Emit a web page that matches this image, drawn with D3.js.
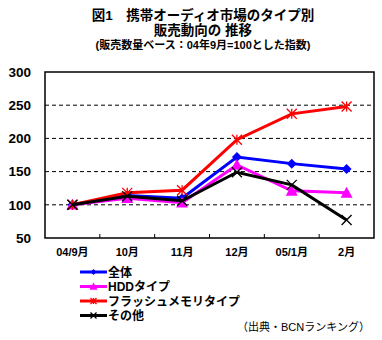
<!DOCTYPE html>
<html><head><meta charset="utf-8">
<script src="https://cdn.jsdelivr.net/npm/d3@7/dist/d3.min.js"></script>
<style>
body{margin:0;background:#fff;}
text{font-family:"Liberation Sans","Noto Sans CJK JP",sans-serif;}
</style></head>
<body><svg id="c" width="382" height="340"></svg>
<script>
const categories = ["04/9月","10月","11月","12月","05/1月","2月"];
const seriesNames = ["全体","HDDタイプ","フラッシュメモリタイプ","その他"];
const zentai = [100,114,110,172,162,154];
const hdd = [100,110,103,160,121,118];
const flash = [100,118,122,198,237,248];
const sonota = [100,113,106,149,130,77];
const yTicks = [50,100,150,200,250,300];
const colors = ["#0000ff","#ff00ff","#ff0000","#000000"];
const markers = ["diamond","triangle","asterisk","cross"];
const series = [zentai,hdd,flash,sonota];

const svg = d3.select("#c");
const L=45,R=374,T=72,B=238;
const x = d3.scaleBand().domain(categories).range([L,R]);
const y = d3.scaleLinear().domain([50,300]).range([B,T]);

// titles
const t = svg.append("g").attr("font-weight","bold").attr("text-anchor","middle").attr("fill","#000");
t.append("text").attr("x",203).attr("y",20).attr("font-size",13.5).text("図1　携帯オーディオ市場のタイプ別");
t.append("text").attr("x",203).attr("y",35).attr("font-size",13.5).text("販売動向の 推移");
t.append("text").attr("x",203).attr("y",49).attr("font-size",11).text("(販売数量ベース：04年9月=100とした指数)");

// gridlines
svg.append("g").selectAll("line").data(yTicks.filter(v=>v>50&&v<300)).join("line")
  .attr("x1",L).attr("x2",R).attr("y1",d=>y(d)).attr("y2",d=>y(d))
  .attr("stroke","#000").attr("stroke-width",1).attr("stroke-dasharray","4,3");
// frame
svg.append("rect").attr("x",L).attr("y",T).attr("width",R-L).attr("height",B-T)
  .attr("fill","none").attr("stroke","#000").attr("stroke-width",1.5);

// y axis labels
const ya = svg.append("g").attr("transform",`translate(${L},0)`)
  .call(d3.axisLeft(y).tickValues(yTicks).tickSize(0).tickPadding(14));
ya.select(".domain").remove();
ya.selectAll("text").attr("font-size",13.5).attr("font-weight","bold").attr("fill","#000")
  .attr("font-family","Liberation Sans,Arial,sans-serif");

// x axis
const xa = svg.append("g").attr("transform",`translate(0,${B})`)
  .call(d3.axisBottom(x).tickSize(0).tickPadding(10));
xa.select(".domain").remove();
xa.selectAll("text").attr("font-size",11).attr("font-weight","bold").attr("fill","#000");
// inner ticks at band boundaries
svg.append("g").selectAll("line").data(categories.slice(1)).join("line")
  .attr("x1",d=>x(d)).attr("x2",d=>x(d)).attr("y1",B).attr("y2",B-4)
  .attr("stroke","#000").attr("stroke-width",1);

function drawMarker(g,type,cx,cy,color,s){
  if(type==="diamond"){
    g.append("path").attr("d",`M${cx},${cy-s}L${cx+s},${cy}L${cx},${cy+s}L${cx-s},${cy}Z`).attr("fill",color);
  } else if(type==="triangle"){
    g.append("path").attr("d",`M${cx},${cy-s}L${cx+s},${cy+s*0.8}L${cx-s},${cy+s*0.8}Z`).attr("fill",color);
  } else if(type==="asterisk"){
    const p=`M${cx-s},${cy-s}L${cx+s},${cy+s}M${cx-s},${cy+s}L${cx+s},${cy-s}M${cx},${cy-s}L${cx},${cy+s}`;
    g.append("path").attr("d",p).attr("stroke",color).attr("stroke-width",1.3).attr("fill","none");
  } else {
    const p=`M${cx-s},${cy-s}L${cx+s},${cy+s}M${cx-s},${cy+s}L${cx+s},${cy-s}`;
    g.append("path").attr("d",p).attr("stroke",color).attr("stroke-width",1.3).attr("fill","none");
  }
}

const line = d3.line().x((d,i)=>x(categories[i])+x.bandwidth()/2).y(d=>y(d));
series.forEach((s,k)=>{
  const g = svg.append("g");
  g.append("path").datum(s).attr("d",line).attr("fill","none")
    .attr("stroke",colors[k]).attr("stroke-width",3);
  s.forEach((v,i)=>drawMarker(g,markers[k],x(categories[i])+x.bandwidth()/2,y(v),colors[k],k===1?6:5));
});

// legend
const lg = svg.append("g");
seriesNames.forEach((n,k)=>{
  const yy = 272 + k*14.5;
  lg.append("line").attr("x1",80).attr("x2",107).attr("y1",yy).attr("y2",yy)
    .attr("stroke",colors[k]).attr("stroke-width",3);
  drawMarker(lg,markers[k],93.5,yy,colors[k],k===1?4:3);
  lg.append("text").attr("x",108).attr("y",yy+4.5).attr("font-size",12).attr("font-weight","bold")
    .attr("fill","#000").text(n);
});
svg.append("text").attr("x",237).attr("y",331).attr("font-size",11).attr("fill","#000").text("（出典・BCNランキング）");
</script></body></html>
